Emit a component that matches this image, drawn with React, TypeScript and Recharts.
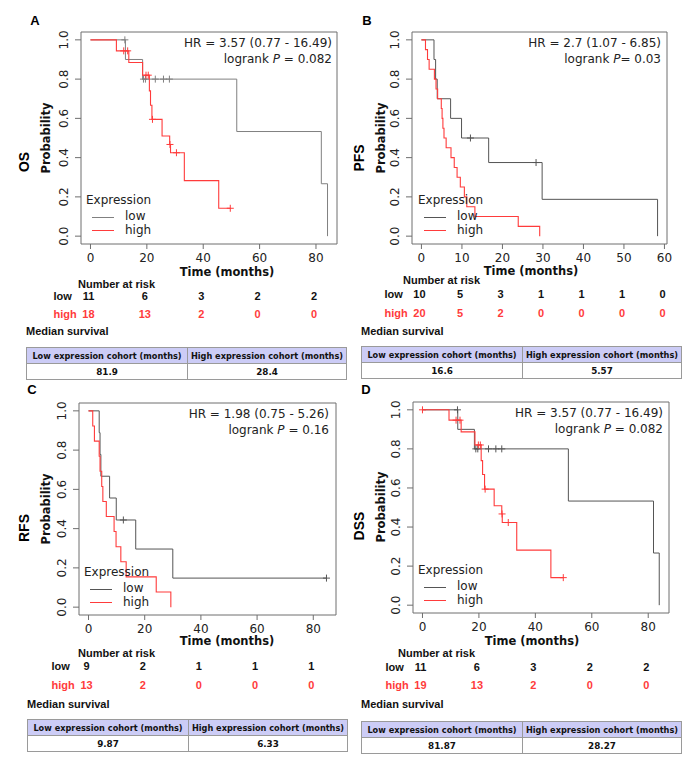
import React from 'react';
import { ComposedChart, Line, Scatter, XAxis, YAxis, ReferenceArea } from 'recharts';

const RED = '#ff3b3b';
const FRAME = '#6e6e6e';
const PLOT_FONT = '"DejaVu Sans", sans-serif';
const ARIAL = '"Liberation Sans", Arial, sans-serif';

// ---- OS (panel A)
const osLowTime = [0, 12.4, 18.5, 51.9, 81.9, 84.1];
const osLowSurv = [1, 0.9, 0.8, 0.533, 0.267, 0];
const osLowCensor = [12.2, 18.8, 19.5, 23.0, 25.9, 28.0];
const osHighTime = [0, 9.2, 13.6, 18.5, 20.9, 21.3, 21.8, 25.4, 28.1, 28.4, 33.3, 45.5, 49.6];
const osHighSurv = [1, 0.944, 0.885, 0.82, 0.74, 0.667, 0.595, 0.51, 0.467, 0.425, 0.283, 0.142, 0.142];
const osHighCensor = [11.8, 13.2, 19.7, 20.5, 22.0, 28.2, 30.5, 49.6];
const osTicks = [0, 20, 40, 60, 80];
const osRiskLow = [11, 6, 3, 2, 2];
const osRiskHigh = [18, 13, 2, 0, 0];

// ---- PFS (panel B)
const pfsLowTime = [0, 3.1, 3.5, 3.9, 7.2, 9.9, 16.6, 29.8, 58.3];
const pfsLowSurv = [1, 0.9, 0.8, 0.7, 0.6, 0.5, 0.375, 0.1875, 0];
const pfsLowCensor = [12.1, 28.3];
const pfsHighTime = [0, 1.0, 1.5, 1.9, 3.2, 3.6, 4.0, 4.9, 5.1, 5.3, 5.57, 6.1, 7.3, 8.1, 8.8, 9.6, 10.6, 11.2, 13.2, 23.9, 29.2];
const pfsHighSurv = [1, 0.95, 0.9, 0.85, 0.8, 0.75, 0.7, 0.65, 0.6, 0.55, 0.5, 0.45, 0.4, 0.35, 0.3, 0.25, 0.2, 0.15, 0.1, 0.05, 0];
const pfsHighCensor: number[] = [];
const pfsTicks = [0, 10, 20, 30, 40, 50, 60];
const pfsRiskLow = [10, 5, 3, 1, 1, 1, 0];
const pfsRiskHigh = [20, 5, 2, 0, 0, 0, 0];

// ---- RFS (panel C)
const rfsLowTime = [0, 3.8, 4.1, 4.4, 7.5, 9.87, 16.8, 30.0, 84.7];
const rfsLowSurv = [1, 0.889, 0.778, 0.667, 0.556, 0.444, 0.296, 0.148, 0.148];
const rfsLowCensor = [12.4, 84.7];
const rfsHighTime = [0, 1.5, 2.1, 3.8, 4.1, 4.7, 5.1, 6.33, 9.1, 9.8, 11.5, 13.4, 24.1, 29.3];
const rfsHighSurv = [1, 0.923, 0.846, 0.769, 0.692, 0.615, 0.538, 0.462, 0.385, 0.308, 0.231, 0.154, 0.077, 0];
const rfsHighCensor: number[] = [];
const rfsTicks = [0, 20, 40, 60, 80];
const rfsRiskLow = [9, 2, 1, 1, 1];
const rfsRiskHigh = [13, 2, 0, 0, 0];

// ---- DSS (panel D)
const dssLowTime = [0, 12.5, 18.4, 51.7, 81.87, 83.9];
const dssLowSurv = [1, 0.9, 0.8, 0.533, 0.267, 0];
const dssLowCensor = [12.4, 18.9, 19.6, 23.4, 26.0, 28.1];
const dssHighTime = [0, 9.4, 13.7, 18.6, 20.8, 21.3, 22.0, 25.4, 28.1, 28.27, 33.4, 45.5, 49.9];
const dssHighSurv = [1, 0.947, 0.887, 0.82, 0.74, 0.669, 0.594, 0.509, 0.467, 0.423, 0.282, 0.141, 0.141];
const dssHighCensor = [0, 11.9, 13.3, 19.8, 20.5, 22.2, 28.2, 30.4, 49.9];
const dssTicks = [0, 20, 40, 60, 80];
const dssRiskLow = [11, 6, 3, 2, 2];
const dssRiskHigh = [19, 13, 2, 0, 0];

const yTicks = [0, 0.2, 0.4, 0.6, 0.8, 1];

const steps = (times: number[], surv: number[]) => times.map((t, i) => ({ t, s: surv[i] }));

// censor marks sit on the step curve
const marks = (censor: number[], times: number[], surv: number[]) =>
  censor.map((t) => {
    let s = surv[0];
    times.forEach((tt, i) => {
      if (tt <= t) s = surv[i];
    });
    return { t, s };
  });

const panels = [
  {
    letter: 'A', endpoint: 'OS', gray: '#808080',
    chart: { left: 0, top: 0, width: 345, height: 330 },
    box: { left: 81, top: 32, right: 337, bottom: 244 },
    xDomain: [-3.36, 87.46], ticks: osTicks, riskLow: osRiskLow, riskHigh: osRiskHigh,
    low: steps(osLowTime, osLowSurv), lowMarks: marks(osLowCensor, osLowTime, osLowSurv),
    high: steps(osHighTime, osHighSurv), highMarks: marks(osHighCensor, osHighTime, osHighSurv),
    tickDy: 18, lowDy: 56, highDy: 74,
    hr: 'HR = 3.57 (0.77 - 16.49)', p: ' = 0.082', hrPos: [332, 43],
    letterPos: [35, 20], endPos: [24, 162], probPos: [47, 138], legendPos: [86, 200],
    timePos: [227, 272.5], narPos: [78, 284], medPos: [26, 331], tablePos: [26, 347],
    medLow: '81.9', medHigh: '28.4',
  },
  {
    letter: 'B', endpoint: 'PFS', gray: '#555555',
    chart: { left: 345, top: 0, width: 342, height: 330 },
    box: { left: 412, top: 32, right: 667, bottom: 244 },
    xDomain: [-2.33, 60.63], ticks: pfsTicks, riskLow: pfsRiskLow, riskHigh: pfsRiskHigh,
    low: steps(pfsLowTime, pfsLowSurv), lowMarks: marks(pfsLowCensor, pfsLowTime, pfsLowSurv),
    high: steps(pfsHighTime, pfsHighSurv), highMarks: marks(pfsHighCensor, pfsHighTime, pfsHighSurv),
    tickDy: 18, lowDy: 54, highDy: 73,
    hr: 'HR = 2.7 (1.07 - 6.85)', p: '= 0.03', hrPos: [661, 43],
    letterPos: [367, 20], endPos: [359, 158], probPos: [382, 138], legendPos: [418, 200],
    timePos: [531, 272], narPos: [403, 280], medPos: [361, 331], tablePos: [361, 346],
    medLow: '16.6', medHigh: '5.57',
  },
  {
    letter: 'C', endpoint: 'RFS', gray: '#555555',
    chart: { left: 0, top: 370, width: 345, height: 330 },
    box: { left: 79, top: 403, right: 336, bottom: 615 },
    xDomain: [-3.39, 88.09], ticks: rfsTicks, riskLow: rfsRiskLow, riskHigh: rfsRiskHigh,
    low: steps(rfsLowTime, rfsLowSurv), lowMarks: marks(rfsLowCensor, rfsLowTime, rfsLowSurv),
    high: steps(rfsHighTime, rfsHighSurv), highMarks: marks(rfsHighCensor, rfsHighTime, rfsHighSurv),
    tickDy: 17.5, lowDy: 55, highDy: 74,
    hr: 'HR = 1.98 (0.75 - 5.26)', p: ' = 0.16', hrPos: [329, 414],
    letterPos: [32, 389], endPos: [24, 528], probPos: [47, 509], legendPos: [84, 572],
    timePos: [227, 642], narPos: [78, 653], medPos: [27, 704], tablePos: [27, 719],
    medLow: '9.87', medHigh: '6.33',
  },
  {
    letter: 'D', endpoint: 'DSS', gray: '#555555',
    chart: { left: 345, top: 370, width: 342, height: 330 },
    box: { left: 413, top: 402, right: 669, bottom: 613 },
    xDomain: [-3.36, 87.36], ticks: dssTicks, riskLow: dssRiskLow, riskHigh: dssRiskHigh,
    low: steps(dssLowTime, dssLowSurv), lowMarks: marks(dssLowCensor, dssLowTime, dssLowSurv),
    high: steps(dssHighTime, dssHighSurv), highMarks: marks(dssHighCensor, dssHighTime, dssHighSurv),
    tickDy: 18, lowDy: 58, highDy: 76,
    hr: 'HR = 3.57 (0.77 - 16.49)', p: ' = 0.082', hrPos: [663, 413],
    letterPos: [366, 389], endPos: [359, 526], probPos: [382, 507], legendPos: [418, 570],
    timePos: [532, 642], narPos: [398, 653], medPos: [361, 704], tablePos: [361, 721],
    medLow: '81.87', medHigh: '28.27',
  },
];

type PanelCfg = (typeof panels)[number];

const plus = (color: string) => (p: any) => {
  const { cx, cy } = p;
  if (cx == null || cy == null) return <g />;
  return (
    <path
      d={`M${cx - 3.5},${cy}H${cx + 3.5}M${cx},${cy - 3.5}V${cy + 3.5}`}
      stroke={color}
      strokeWidth={1}
      fill="none"
    />
  );
};

const YTick = (p: any) => {
  const { x, y, payload } = p;
  return (
    <text
      x={x}
      y={y}
      dy="0.36em"
      textAnchor="middle"
      transform={`rotate(-90, ${x}, ${y})`}
      fontFamily={PLOT_FONT}
      fontSize={12}
      fill="#222"
    >
      {Number(payload.value).toFixed(1)}
    </text>
  );
};

const XTick = (p: any) => {
  const { x, y, payload, cfg } = p;
  const c = cfg as PanelCfg;
  const i = c.ticks.indexOf(payload.value);
  const base = y - 5; // box bottom
  return (
    <g>
      <text x={x} y={base + c.tickDy} textAnchor="middle" fontFamily={PLOT_FONT} fontSize={12} fill="#222">
        {payload.value}
      </text>
      <text x={x - 2} y={base + c.lowDy} textAnchor="middle" fontFamily={ARIAL} fontSize={11} fontWeight="bold" fill="#111">
        {c.riskLow[i]}
      </text>
      <text x={x - 2} y={base + c.highDy} textAnchor="middle" fontFamily={ARIAL} fontSize={11} fontWeight="bold" fill={RED}>
        {c.riskHigh[i]}
      </text>
      {i === 0 && (
        <>
          <text x={x - 37} y={base + c.lowDy} fontFamily={ARIAL} fontSize={11} fontWeight="bold" fill="#111">
            low
          </text>
          <text x={x - 37} y={base + c.highDy} fontFamily={ARIAL} fontSize={11} fontWeight="bold" fill={RED}>
            high
          </text>
        </>
      )}
    </g>
  );
};

const Txt = ({ x, y, anchor = 'start', rotate = false, style, children }: any) => {
  const tx = anchor === 'start' ? '0' : anchor === 'middle' ? '-50%' : '-100%';
  return (
    <div
      style={{
        position: 'absolute',
        left: x,
        top: y,
        whiteSpace: 'nowrap',
        lineHeight: '1',
        transform: rotate ? 'translate(-50%,-50%) rotate(-90deg)' : `translate(${tx},-50%)`,
        ...style,
      }}
    >
      {children}
    </div>
  );
};

const cellBorder = '1px solid #9a9a9a';

const MedianTable = ({ x, y, low, high }: any) => {
  const cell = { display: 'flex', alignItems: 'center', justifyContent: 'center', height: '100%' };
  return (
    <div
      style={{
        position: 'absolute', left: x, top: y, width: 321, border: cellBorder,
        fontFamily: PLOT_FONT, fontWeight: 'bold', color: '#111', boxSizing: 'border-box',
      }}
    >
      <div style={{ display: 'flex', height: 15, background: '#ccccf6', borderBottom: cellBorder, fontSize: 8.2 }}>
        <div style={{ ...cell, width: 160, borderRight: cellBorder }}>Low expression cohort (months)</div>
        <div style={{ ...cell, flex: 1 }}>High expression cohort (months)</div>
      </div>
      <div style={{ display: 'flex', height: 15, fontSize: 8.8 }}>
        <div style={{ ...cell, width: 160, borderRight: cellBorder }}>{low}</div>
        <div style={{ ...cell, flex: 1 }}>{high}</div>
      </div>
    </div>
  );
};

const Panel = ({ cfg }: { cfg: PanelCfg }) => {
  const { chart, box } = cfg;
  const plotFont = { fontFamily: PLOT_FONT, fontSize: 12, color: '#222' };
  const boldTitle = { fontFamily: PLOT_FONT, fontSize: 11.5, fontWeight: 'bold', color: '#111' };
  const [lx, ly] = cfg.legendPos;
  return (
    <>
      <div style={{ position: 'absolute', left: chart.left, top: chart.top }}>
        <ComposedChart
          width={chart.width}
          height={chart.height}
          margin={{ top: box.top - chart.top, right: chart.left + chart.width - box.right, left: 0, bottom: 0 }}
        >
          <XAxis
            type="number"
            dataKey="t"
            domain={cfg.xDomain}
            allowDataOverflow
            ticks={cfg.ticks}
            interval={0}
            height={chart.top + chart.height - box.bottom}
            axisLine={false}
            tickLine={{ stroke: FRAME }}
            tickSize={5}
            tickMargin={0}
            tick={(p: any) => <XTick {...p} cfg={cfg} />}
          />
          <YAxis
            type="number"
            dataKey="s"
            domain={[-0.04, 1.04]}
            allowDataOverflow
            ticks={yTicks}
            interval={0}
            width={box.left - chart.left}
            axisLine={false}
            tickLine={{ stroke: FRAME }}
            tickSize={6}
            tickMargin={11}
            tick={YTick}
          />
          <ReferenceArea
            x1={cfg.xDomain[0]}
            x2={cfg.xDomain[1]}
            y1={-0.04}
            y2={1.04}
            fill="none"
            fillOpacity={0}
            stroke={FRAME}
            strokeWidth={1}
            ifOverflow="visible"
          />
          <Line data={cfg.low} dataKey="s" type="stepAfter" stroke={cfg.gray} strokeWidth={1} dot={false} activeDot={false} isAnimationActive={false} />
          <Line data={cfg.high} dataKey="s" type="stepAfter" stroke={RED} strokeWidth={1.1} dot={false} activeDot={false} isAnimationActive={false} />
          <Scatter data={cfg.lowMarks} dataKey="s" shape={plus(cfg.gray)} isAnimationActive={false} />
          <Scatter data={cfg.highMarks} dataKey="s" shape={plus(RED)} isAnimationActive={false} />
        </ComposedChart>
      </div>

      <Txt x={cfg.letterPos[0]} y={cfg.letterPos[1]} anchor="middle" style={{ fontFamily: ARIAL, fontSize: 13, fontWeight: 'bold' }}>
        {cfg.letter}
      </Txt>
      <Txt x={cfg.endPos[0]} y={cfg.endPos[1]} rotate style={{ fontFamily: ARIAL, fontSize: 14, fontWeight: 'bold' }}>
        {cfg.endpoint}
      </Txt>
      <Txt x={cfg.probPos[0]} y={cfg.probPos[1]} rotate style={boldTitle}>
        Probability
      </Txt>
      <Txt x={cfg.hrPos[0]} y={cfg.hrPos[1]} anchor="end" style={plotFont}>
        {cfg.hr}
      </Txt>
      <Txt x={cfg.hrPos[0]} y={cfg.hrPos[1] + 16} anchor="end" style={plotFont}>
        logrank <i>P</i>
        {cfg.p}
      </Txt>

      <Txt x={lx} y={ly} style={plotFont}>Expression</Txt>
      <div style={{ position: 'absolute', left: lx + 6, top: ly + 17, width: 22, borderTop: `1px solid ${cfg.gray}` }} />
      <div style={{ position: 'absolute', left: lx + 6, top: ly + 30, width: 22, borderTop: `1px solid ${RED}` }} />
      <Txt x={lx + 39} y={ly + 16} style={plotFont}>low</Txt>
      <Txt x={lx + 39} y={ly + 30} style={plotFont}>high</Txt>

      <Txt x={cfg.timePos[0]} y={cfg.timePos[1]} anchor="middle" style={boldTitle}>
        Time (months)
      </Txt>
      <Txt x={cfg.narPos[0]} y={cfg.narPos[1]} style={{ fontFamily: ARIAL, fontSize: 11, fontWeight: 'bold', color: '#111' }}>
        Number at risk
      </Txt>
      <Txt x={cfg.medPos[0]} y={cfg.medPos[1]} style={{ fontFamily: ARIAL, fontSize: 11, fontWeight: 'bold', color: '#111' }}>
        Median survival
      </Txt>
      <MedianTable x={cfg.tablePos[0]} y={cfg.tablePos[1]} low={cfg.medLow} high={cfg.medHigh} />
    </>
  );
};

export default function App() {
  return (
    <div style={{ position: 'relative', width: 687, height: 765, background: '#fff', overflow: 'hidden' }}>
      <style>{'body{margin:0}'}</style>
      {panels.map((p) => (
        <Panel key={p.letter} cfg={p} />
      ))}
    </div>
  );
}
